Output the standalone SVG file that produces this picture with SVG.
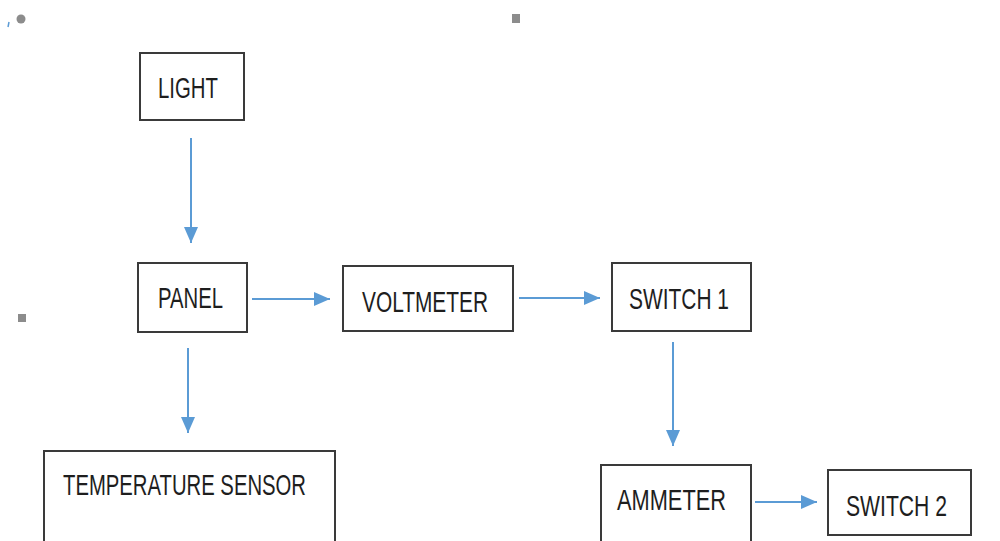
<svg xmlns="http://www.w3.org/2000/svg" width="1000" height="541" viewBox="0 0 1000 541">
<defs>
<style>
.box{fill:#fff;stroke:#3a3a3a;stroke-width:2}
.lbl{font-family:"Liberation Sans Narrow","Liberation Sans",Arial,sans-serif;font-size:30px;fill:#1e1e1e}
.conn{stroke:#5b9bd5;stroke-width:2;fill:none;marker-end:url(#ah)}
.mark{fill:#8c8c8c}
</style>
<marker id="ah" markerUnits="userSpaceOnUse" markerWidth="16" markerHeight="14" refX="16" refY="7" orient="auto">
<path d="M0,0 L16,7 L0,14 Z" fill="#5b9bd5"/>
</marker>
</defs>
<rect width="1000" height="541" fill="#fff"/>
<circle class="mark" cx="21" cy="19" r="4.5"/>
<path d="M9,22 L8,27" stroke="#5b9bd5" stroke-width="1.5"/>
<rect class="mark" x="512" y="14" width="8" height="9"/>
<rect class="mark" x="18" y="314" width="8" height="8"/>
<g id="connectors">
<line class="conn" x1="191" y1="138" x2="191" y2="243"/>
<line class="conn" x1="252" y1="299" x2="330" y2="299"/>
<line class="conn" x1="519" y1="298" x2="600" y2="298"/>
<line class="conn" x1="673" y1="342" x2="673" y2="446"/>
<line class="conn" x1="755" y1="502" x2="817" y2="502"/>
<line class="conn" x1="188" y1="348" x2="188" y2="433"/>
</g>
<g id="light"><rect class="box" x="140" y="53" width="104" height="67"/><text class="lbl" x="158" y="98" textLength="60" lengthAdjust="spacingAndGlyphs">LIGHT</text></g>
<g id="panel"><rect class="box" x="138" y="263" width="109" height="69"/><text class="lbl" x="158" y="308" textLength="65" lengthAdjust="spacingAndGlyphs">PANEL</text></g>
<g id="voltmeter"><rect class="box" x="343" y="266" width="170" height="65"/><text class="lbl" x="362" y="312" textLength="126" lengthAdjust="spacingAndGlyphs">VOLTMETER</text></g>
<g id="switch1"><rect class="box" x="612" y="263" width="139" height="68"/><text class="lbl" x="629" y="309" textLength="100" lengthAdjust="spacingAndGlyphs">SWITCH 1</text></g>
<g id="ammeter"><rect class="box" x="601" y="465" width="150" height="90"/><text class="lbl" x="617" y="510" textLength="109" lengthAdjust="spacingAndGlyphs">AMMETER</text></g>
<g id="switch2"><rect class="box" x="828" y="470" width="143" height="65"/><text class="lbl" x="846" y="516" textLength="101" lengthAdjust="spacingAndGlyphs">SWITCH 2</text></g>
<g id="temperature-sensor"><rect class="box" x="44" y="451" width="291" height="110"/><text class="lbl" x="63" y="495" textLength="243" lengthAdjust="spacingAndGlyphs">TEMPERATURE SENSOR</text></g>
</svg>
